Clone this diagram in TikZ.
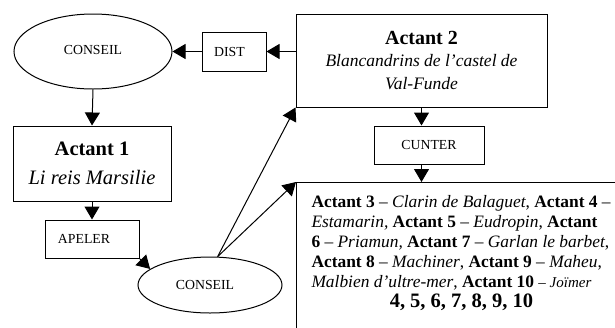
\documentclass[tikz,border=0pt]{standalone}
\usepackage{fontspec}
\setmainfont{Liberation Serif}
\usetikzlibrary{arrows.meta,shapes.geometric}
\begin{document}
\begin{tikzpicture}[x=1pt,y=-1pt,
  line width=1pt,
  arr/.style={-{Triangle[length=13pt,width=15pt]}},
  lbl/.style={draw,rectangle,inner sep=0pt,font=\fontsize{13.8}{16}\selectfont},
  ell/.style={draw,ellipse,inner sep=0pt,font=\fontsize{13.8}{16}\selectfont},
  actbox/.style={draw,rectangle,inner sep=0pt,align=center}]
\path[use as bounding box,clip] (0,0) rectangle (615,327);
% nodes
\node[ell,minimum width=158pt,minimum height=75pt] (c1) at (93,51.5) {\raisebox{4pt}{CONSEIL}};
\node[lbl,minimum width=64pt,minimum height=39pt] (dist) at (234,51.5) {\hspace{-9pt}DIST};
\node[actbox,minimum width=251pt,minimum height=93pt,font=\fontsize{17.5}{22.5}\selectfont] (a2) at (421.5,60.5)
  {{\fontsize{20}{22.5}\selectfont\bfseries Actant 2}\\\itshape Blancandrins de l’castel de\\\itshape Val-Funde};
\node[actbox,minimum width=158pt,minimum height=75pt,font=\fontsize{20.5}{29}\selectfont] (a1) at (92,163.5)
  {{\bfseries Actant 1}\\\itshape Li reis Marsilie};
\node[lbl,minimum width=94pt,minimum height=38pt] (apeler) at (92,239) {\hspace{-16pt}APELER};
\node[lbl,minimum width=110pt,minimum height=38pt] (cunter) at (429,145) {CUNTER};
\node[ell,minimum width=144pt,minimum height=56pt] (c2) at (210,285) {\hspace{-10pt}CONSEIL};
\node[draw,rectangle,inner sep=0pt,anchor=north west,minimum width=360pt,minimum height=170pt] (b3) at (296,182) {};
\node[inner sep=0pt,anchor=north west,align=left,font=\fontsize{17.4}{20}\selectfont] (t3) at (311,195)
  {\textbf{Actant 3} – \textit{Clarin de Balaguet}, \textbf{Actant 4} –\\
   \textit{Estamarin,} \textbf{Actant 5} – \textit{Eudropin}, \textbf{Actant}\\
   \textbf{6} – \textit{Priamun,} \textbf{Actant 7} – \textit{Garlan le barbet},\\
   \textbf{Actant 8} – \textit{Machiner}, \textbf{Actant 9} – \textit{Maheu},\\
   \textit{Malbien d’ultre-mer}, \textbf{Actant 10} {\fontsize{15}{20}\selectfont – \textit{Joïmer}}\\
   \makebox[300pt][c]{\fontsize{20.5}{20}\selectfont\bfseries 4, 5, 6, 7, 8, 9, 10}};
% connectors
\draw[arr] (a2.west |- dist.east) -- (dist.east);
\draw[arr] (dist.west) -- (c1.east);
\draw[arr] (c1.south) -- (a1.north);
\draw[arr] (a1.south) -- (apeler.north);
\draw[arr] (apeler.south east) -- (c2.165);
\draw[arr] (c2.75) -- (a2.south west);
\draw[arr] (c2.75) -- (b3.north west);
\draw[arr] (a2.south) -- (a2.south |- cunter.north);
\draw[arr] (a2.south |- cunter.south) -- (a2.south |- b3.north);
\end{tikzpicture}
\end{document}
